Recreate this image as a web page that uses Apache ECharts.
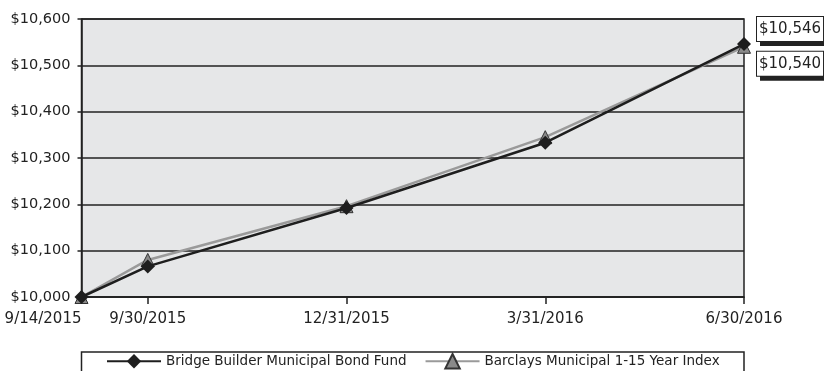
<!DOCTYPE html>
<html>
<head>
<meta charset="utf-8">
<title>Growth of $10,000</title>
<script src="https://cdn.jsdelivr.net/npm/echarts@6/dist/echarts.min.js"></script>
<style>
    html, body { margin: 0; padding: 0; background: #fff; }
    #chart { width: 824px; height: 371px; }
</style>
</head>
<body>
<div id="chart"></div>
<script>
// month-end points, only some of them are labelled on the axis
var dates = ['9/14/2015', '9/30/2015', '10/31/2015', '11/30/2015', '12/31/2015', '1/31/2016',
    '2/29/2016', '3/31/2016', '4/30/2016', '5/31/2016', '6/30/2016'];
var shownDates = ['9/14/2015', '9/30/2015', '12/31/2015', '3/31/2016', '6/30/2016'];
var fundValues = [10000, 10066, null, null, 10192, null, null, 10333, null, null, 10546];
var indexValues = [10000, 10080, null, null, 10196, null, null, 10345, null, null, 10540];
var fundName = 'Bridge Builder Municipal Bond Fund';
var indexName = 'Barclays Municipal 1-15 Year Index';

var font = 'DejaVu Sans';

function money(v) {
    return '$' + v.toLocaleString('en-US');
}
function isShown(i) {
    return shownDates.indexOf(dates[i]) >= 0;
}
// only the last point gets the boxed value label
function withEndLabel(values, dy) {
    return values.map(function (v, i) {
        if (i != values.length - 1) return v;
        return {
            value: v,
            label: {
                show: true,
                position: 'right',
                distance: 6,
                offset: [0, dy],
                formatter: function (p) { return money(p.value); },
                color: '#222',
                fontFamily: font,
                fontSize: 15,
                backgroundColor: '#fff',
                borderColor: '#222',
                borderWidth: 1,
                padding: [5, 2, 4, 2],
                shadowColor: '#222',
                shadowOffsetX: 4,
                shadowOffsetY: 4,
                shadowBlur: 0
            }
        };
    });
}

function initChart() {
    var myChart = echarts.init(document.getElementById('chart'));
    var option = {
        animation: false,
        backgroundColor: '#fff',
        grid: {
            left: 81.5, right: 80, top: 19, bottom: 74,
            show: true,
            backgroundColor: '#e6e7e8',
            borderColor: '#222',
            borderWidth: 1.5
        },
        graphic: [{
            type: 'rect',
            shape: { x: 81.5, y: 352, width: 662.5, height: 30 },
            style: { fill: '#fff', stroke: '#222', lineWidth: 1.5 },
            z: -1
        }],
        legend: {
            left: 106, top: 353, padding: 0,
            itemWidth: 54, itemHeight: 18, itemGap: 18,
            textStyle: { fontFamily: font, fontSize: 13.5, color: '#222' },
            data: [fundName, indexName]
        },
        xAxis: {
            type: 'category',
            data: dates,
            boundaryGap: false,
            axisLine: { lineStyle: { color: '#222', width: 1.5 } },
            axisTick: {
                length: 7,
                lineStyle: { color: '#222', width: 1.5 },
                interval: function (i) { return i > 0 && isShown(i); }
            },
            axisLabel: {
                interval: function (i) { return isShown(i); },
                showMinLabel: true,
                alignMinLabel: 'right',
                hideOverlap: false,
                margin: 15,
                color: '#222',
                fontFamily: font,
                fontSize: 15
            },
            splitLine: { show: false }
        },
        yAxis: {
            type: 'value',
            min: 10000, max: 10600, interval: 100,
            axisLine: { show: true, lineStyle: { color: '#222', width: 1.5 } },
            axisTick: { show: true, length: 4, lineStyle: { color: '#222', width: 1.5 } },
            axisLabel: {
                margin: 11,
                color: '#222',
                fontFamily: font,
                fontSize: 14.5,
                formatter: money
            },
            splitLine: { lineStyle: { color: '#222', width: 1.5 } }
        },
        series: [{
            name: indexName,
            type: 'line',
            data: withEndLabel(indexValues, 17),
            connectNulls: true,
            symbol: 'triangle',
            symbolSize: 13,
            lineStyle: { color: '#9a9a9a', width: 2.5 },
            itemStyle: { color: '#8a8a8a', borderColor: '#333', borderWidth: 1 },
            z: 2
        }, {
            name: fundName,
            type: 'line',
            data: withEndLabel(fundValues, -15),
            connectNulls: true,
            symbol: 'diamond',
            symbolSize: 14,
            lineStyle: { color: '#1e1e1e', width: 2.5 },
            itemStyle: { color: '#1e1e1e' },
            z: 3
        }]
    };
    myChart.setOption(option);
}
window.onload = initChart;
</script>
</body>
</html>
